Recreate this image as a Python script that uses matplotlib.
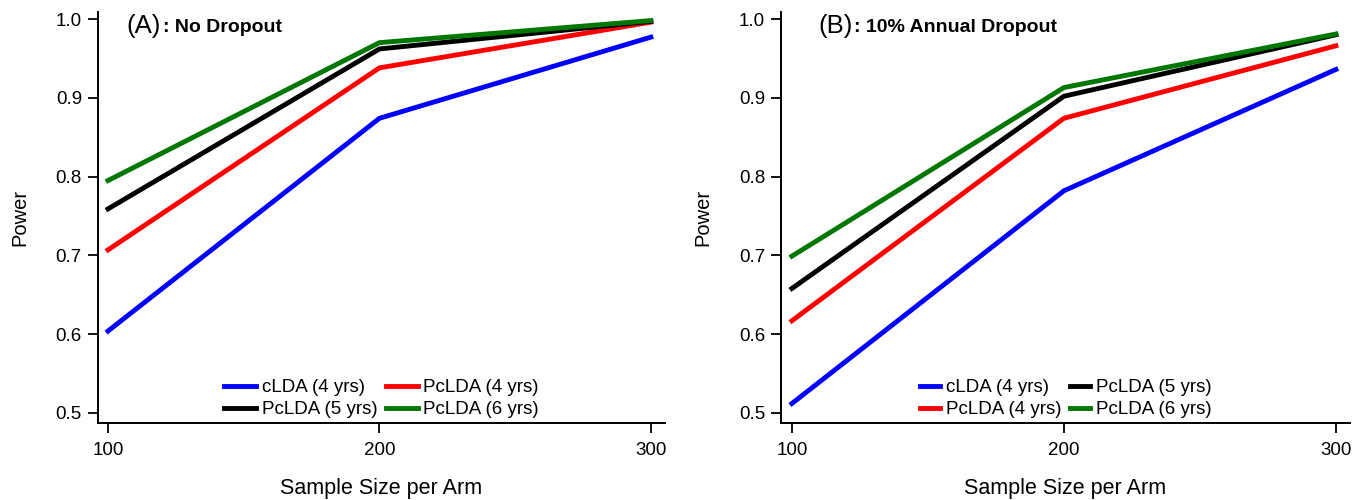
import matplotlib
matplotlib.use("Agg")
import matplotlib.pyplot as plt

plt.rcParams["font.family"] = ["Liberation Sans", "DejaVu Sans"]

sample_size = [100, 200, 300]
labels = ["cLDA (4 yrs)", "PcLDA (4 yrs)", "PcLDA (5 yrs)", "PcLDA (6 yrs)"]
colors = ["#0000ff", "#ff0000", "#000000", "#007700"]

# panel A: no dropout
power_a = [
    [0.604, 0.874, 0.977],
    [0.707, 0.938, 0.996],
    [0.759, 0.962, 0.997],
    [0.795, 0.970, 0.998],
]
# panel B: 10% annual dropout
power_b = [
    [0.512, 0.782, 0.936],
    [0.617, 0.874, 0.966],
    [0.658, 0.902, 0.980],
    [0.699, 0.913, 0.981],
]


def draw_panel(ax, power, tag, title, tag_x, legend_order, handlelen, xlim):
    lines = []
    for vals, lab, col in zip(power, labels, colors):
        ln, = ax.plot(sample_size, vals, color=col, linewidth=3.5, label=lab)
        lines.append(ln)
    ax.set_xlim(*xlim)
    ax.set_ylim(0.4873, 1.0089)
    ax.set_xticks(sample_size)
    ax.set_yticks([0.5, 0.6, 0.7, 0.8, 0.9, 1.0])
    ax.set_yticklabels(["0.5", "0.6", "0.7", "0.8", "0.9", "1.0"])
    ax.spines["top"].set_visible(False)
    ax.spines["right"].set_visible(False)
    ax.spines["left"].set_linewidth(1.4)
    ax.spines["bottom"].set_linewidth(1.4)
    ax.tick_params(labelsize=13.5, length=7.5, width=1.3, direction="out", pad=4)
    ax.tick_params(axis="x", pad=6)
    ax.set_xlabel("Sample Size per Arm", fontsize=15.5, labelpad=14)
    ax.set_ylabel("Power", fontsize=14.5, labelpad=19)
    t = ax.text(tag_x, 0.966, tag, transform=ax.transAxes, fontsize=18.5,
                va="center", ha="left")
    ax.annotate(title, xy=(1, 0.45), xycoords=t, xytext=(1, 0),
                textcoords="offset points", fontsize=14, fontweight="bold",
                va="center", ha="left")
    handles = [lines[i] for i in legend_order]
    ax.legend(handles, [h.get_label() for h in handles], ncol=2,
              loc="lower center", bbox_to_anchor=(0.5, -0.02), frameon=False,
              fontsize=13.5, handlelength=handlelen, handletextpad=0.3,
              columnspacing=0.45, labelspacing=0.25, borderpad=0.2)


fig = plt.figure(figsize=(13.68, 5.0), dpi=100)
ax_a = fig.add_axes([0.0716, 0.154, 0.4145, 0.822])
ax_b = fig.add_axes([0.5709, 0.154, 0.4160, 0.822])

draw_panel(ax_a, power_a, "(A)", ": No Dropout", 0.051, [0, 2, 1, 3], 1.7,
           (96.3, 305.2))
draw_panel(ax_b, power_b, "(B)", ": 10% Annual Dropout", 0.065, [0, 1, 2, 3],
           1.1, (96.0, 305.2))

fig.savefig("out.png", dpi=100)
